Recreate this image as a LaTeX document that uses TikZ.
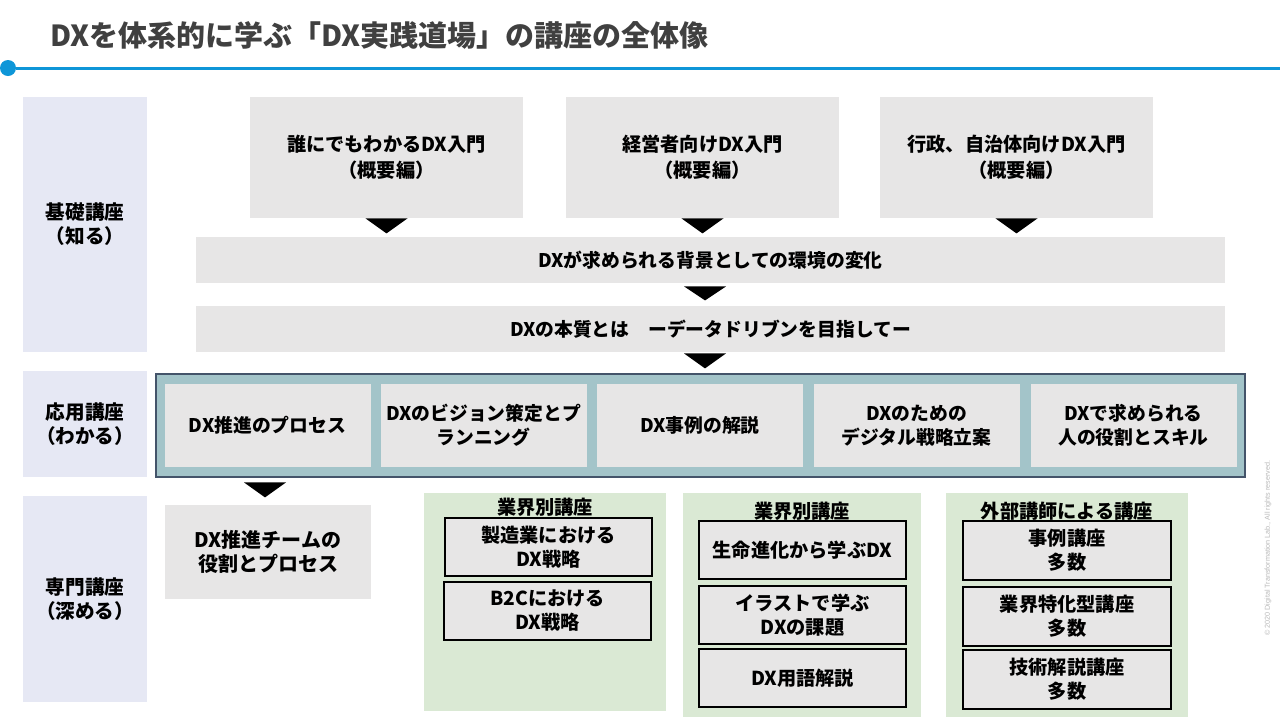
\documentclass[tikz,border=0pt]{standalone}
\usepackage{fontspec}
\setmainfont{Noto Sans CJK JP}
\newfontfamily\latinfont{Liberation Sans}
\usepackage{xcolor}
\usetikzlibrary{positioning}

\definecolor{titlegray}{HTML}{404040}
\definecolor{rulecolor}{HTML}{0E96D8}
\definecolor{levelbg}{HTML}{E6E8F4}
\definecolor{boxgray}{HTML}{E7E6E6}
\definecolor{framebg}{HTML}{A3C4C9}
\definecolor{frameline}{HTML}{44546A}
\definecolor{panelgreen}{HTML}{DAE9D4}

\tikzset{
  level/.style={fill=levelbg, minimum width=62pt, font=\bfseries\fontsize{9.8}{12}\selectfont},
  intro/.style={fill=boxgray, minimum width=136.5pt, minimum height=60.5pt, font=\bfseries\fontsize{9.6}{13}\selectfont},
  bar/.style={fill=boxgray, minimum width=514.5pt, minimum height=23pt, font=\bfseries\fontsize{9.4}{12}\selectfont},
  applied/.style={fill=boxgray, minimum width=103pt, minimum height=41.5pt, font=\bfseries\fontsize{9.4}{12}\selectfont},
  panel/.style={fill=panelgreen},
  course/.style={fill=boxgray, draw=black, line width=0.75pt, minimum width=103.5pt, minimum height=29pt, font=\bfseries\fontsize{9.6}{12}\selectfont}
}

\begin{document}
\begin{tikzpicture}[x=0.5pt, y=-0.5pt, every node/.style={align=center, inner sep=0pt}]
    \useasboundingbox (0,0) rectangle (1280,720);

    % title and rule
    \node[anchor=west, text=titlegray, font=\bfseries\fontsize{14.5}{16}\selectfont] (title) at (50,35) {DXを体系的に学ぶ「DX実践道場」の講座の全体像};
    \node[circle, fill=rulecolor, minimum size=8pt] (dot) at (8,68) {};
    \coordinate (ruleend) at (1280,68);
    \draw[rulecolor, line width=1.5pt] (dot) -- (ruleend);

    % levels
    \node[level, minimum height=127.5pt] (basic) at (85,224.5) {基礎講座\\（知る）};
    \node[level, minimum height=53pt] (applied) at (85,424) {応用講座\\（わかる）};
    \node[level, minimum height=103pt] (expert) at (85,599) {専門講座\\（深める）};

    % basic courses
    \node[intro] (intro1) at (386.5,157.5) {誰にでもわかるDX入門\\（概要編）};
    \node[intro] (intro2) at (702.5,157.5) {経営者向けDX入門\\（概要編）};
    \node[intro] (intro3) at (1016.5,157.5) {行政、自治体向けDX入門\\（概要編）};
    \node[bar] (env) at (710.5,260) {DXが求められる背景としての環境の変化};
    \node[bar] (essence) at (710.5,329) {DXの本質とは　ーデータドリブンを目指してー};

    \foreach \n in {intro1, intro2, intro3}
        \fill (\n.south) ++(-21,0) -- ++(42,0) -- ++(-21,15) -- cycle;
    \fill (env.south) ++(-26.5,3) -- ++(42,0) -- ++(-21,14) -- cycle;
    \fill (essence.south) ++(-26.5,1) -- ++(42,0) -- ++(-21,15) -- cycle;

    % applied courses
    \node[fill=framebg, draw=frameline, line width=0.6pt, minimum width=544.5pt, minimum height=51.5pt] (frame) at (700.5,425.5) {};
    \node[applied] (app1) at (267.5,425.5) {DX推進のプロセス};
    \node[applied] (app2) at (483.5,425.5) {DXのビジョン策定とプ\\ランニング};
    \node[applied] (app3) at (700,425.5) {DX事例の解説};
    \node[applied] (app4) at (916.5,425.5) {DXのための\\デジタル戦略立案};
    \node[applied] (app5) at (1133.5,425.5) {DXで求められる\\人の役割とスキル};

    \fill (app1.south) ++(-23.5,15) -- ++(42,0) -- ++(-21,15) -- cycle;

    % expert courses
    \node[fill=boxgray, minimum width=103pt, minimum height=47pt, font=\bfseries\fontsize{10}{12}\selectfont] (team) at (268,552) {DX推進チームの\\役割とプロセス};

    \node[panel, minimum width=121pt, minimum height=109pt] (ind1) at (545,602) {};
    \node[panel, minimum width=119pt, minimum height=112pt] (ind2) at (802,605) {};
    \node[panel, minimum width=121pt, minimum height=112pt] (ext) at (1067,605) {};

    \node[font=\bfseries\fontsize{9.6}{12}\selectfont] (ind1head) at (545,507) {業界別講座};
    \node[font=\bfseries\fontsize{9.6}{12}\selectfont] (ind2head) at (802,511) {業界別講座};
    \node[font=\bfseries\fontsize{9.6}{12}\selectfont] (exthead) at (1067,511) {外部講師による講座};

    \node[course] (maker) at (548.5,547) {製造業における\\DX戦略};
    \node[course] (btoc) at (547.5,611) {B2Cにおける\\DX戦略};

    \node[course] (life) at (802.5,550) {生命進化から学ぶDX};
    \node[course] (illust) at (802.5,615) {イラストで学ぶ\\DXの課題};
    \node[course] (terms) at (802.5,678) {DX用語解説};

    \node[course, minimum width=104pt, minimum height=29.5pt] (cases) at (1067,550.5) {事例講座\\多数};
    \node[course, minimum width=104pt, minimum height=29.5pt] (sector) at (1067,616.5) {業界特化型講座\\多数};
    \node[course, minimum width=104pt, minimum height=29.5pt] (tech) at (1067,679.5) {技術解説講座\\多数};

    % copyright
    \node[rotate=90, text=black!28, font=\latinfont\fontsize{3.6}{4}\selectfont] (copy) at (1268,548) {© 2020 Digital Transformation Lab., All rights reserved.};
\end{tikzpicture}
\end{document}
